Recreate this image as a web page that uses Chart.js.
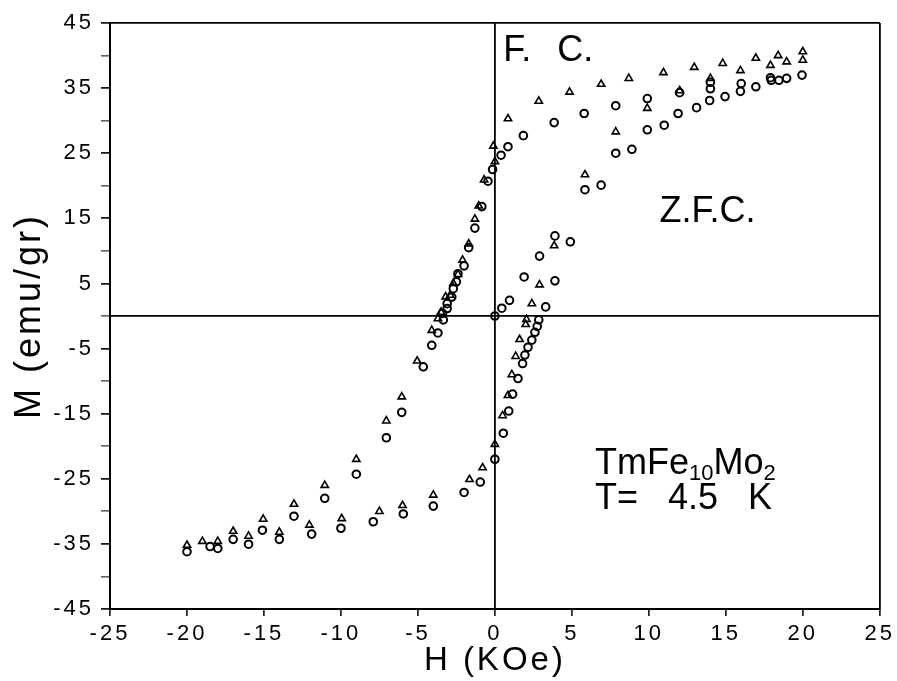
<!DOCTYPE html>
<html>
<head>
<meta charset="utf-8">
<script src="https://cdn.jsdelivr.net/npm/chart.js@4.4.0/dist/chart.umd.min.js"></script>
<style>
  html, body { margin: 0; padding: 0; background: #fff; }
</style>
</head>
<body>
<canvas id="hyst" width="897" height="681"></canvas>
<script>
// open circles, H in KOe / M in emu/gr
var circleH = [0, 0.45, 0.95, 1.9, 2.9, 3.9, 4.9, 3.3, 3.9, 5.85, 6.9, 7.85, 8.9, 9.9, 11, 11.9, 13.1, 13.95, 14.95, 15.95, 16.95, 17.95, 18.45, 18.95, 19.95,
  17.9, 16, 14, 14, 12, 9.9, 7.85, 5.8, 3.85, 1.85, 0.85, 0.4, -0.15, -0.45, -0.85, -1.3, -1.7, -2.0, -2.4, -2.5, -2.7, -2.8, -3.1, -3.1, -3.4, -3.35,
  -3.7, -4.1, -4.65, -6.05, -7.05, -9, -11.05, -13.05, -15.1, -17, -18, -18.5, -20,
  -16, -14, -11.9, -10, -7.9, -5.95, -4, -2, -0.95, 0, 0.55, 0.9, 1.15, 1.5, 1.8, 1.95, 2.15, 2.4, 2.6, 2.75, 2.85];
var circleM = [0, 1.2, 2.4, 6.0, 9.2, 12.3, 11.4, 1.4, 5.4, 19.4, 20.1, 25.0, 25.6, 28.6, 29.3, 31.1, 32.0, 33.1, 33.7, 34.5, 35.2, 36.2, 36.2, 36.5, 37.0,
  36.6, 35.7, 35.9, 34.9, 34.3, 33.4, 32.3, 31.1, 29.7, 27.7, 26.0, 24.7, 22.5, 20.7, 16.8, 13.5, 10.5, 7.7, 6.5, 5.25, 4.2, 2.9, 1.9, 1.15, 0.4, -0.6,
  -2.6, -4.5, -7.8, -14.8, -18.7, -24.3, -28.0, -30.75, -32.9, -34.3, -35.7, -35.4, -36.2,
  -35.05, -34.3, -33.5, -32.6, -31.6, -30.4, -29.2, -27.1, -25.5, -22, -18.0, -14.6, -12.0, -9.6, -7.3, -6.0, -4.8, -3.7, -2.5, -1.6, -0.6];

// open triangles
var triangleH = [20, 18.4, 16.95, 14.8, 12.95, 10.95, 8.7, 6.9, 4.85, 2.85, 0.85, -0.1, 0, -0.7, -1.05, -1.3, -1.7, -2.1, -2.4, -2.7, -2.9, -3.2, -3.5, -3.7,
  -4.1, -5.05, -6.05, -7.05, -9, -11.05, -13.05, -15.05, -17, -18, -19, -20,
  -16, -14, -12.05, -9.95, -7.5, -6, -4, -1.65, -0.8, 0, 0.5, 0.85, 1.1, 1.35, 1.6, 2.0, 2.05, 2.4, 2.9, 3.85, 5.85, 7.85, 9.9, 12, 14, 15.95, 17.9, 18.95, 20];
var triangleM = [40.6, 40.0, 39.6, 38.8, 38.2, 37.4, 36.5, 35.6, 34.4, 33.0, 30.3, 26.1, 23.7, 20.9, 16.9, 14.9, 11.1, 8.6, 6.4, 5.0, 3.2, 2.95, 0.6, -0.4,
  -2.2, -6.9, -12.4, -16.1, -22.0, -26.0, -28.9, -31.2, -33.05, -34.6, -34.6, -35.2,
  -33.8, -33.2, -32.1, -31.1, -30.0, -29.1, -27.5, -25.1, -23.3, -19.7, -15.3, -12.2, -9.0, -6.2, -3.6, -1.3, -0.5, 1.9, 4.8, 10.8, 21.7, 28.3, 31.9, 34.6, 36.5, 37.7, 38.5, 39.05, 39.3];

function toPoints(hs, ms) {
  return hs.map(function(h, i) { return {x: h, y: ms[i]}; });
}

var FONT = 'Liberation Sans';

var notesPlugin = {
  id: 'notes',
  beforeDraw: function(chart) {
    chart.ctx.letterSpacing = '3px';
  },
  afterDraw: function(chart) {
    var ctx = chart.ctx, xs = chart.scales.x, ys = chart.scales.y;
    ctx.save();
    ctx.letterSpacing = '0px';
    ctx.fillStyle = '#000';
    ctx.textAlign = 'left';
    ctx.textBaseline = 'alphabetic';
    ctx.font = '36px "' + FONT + '"';

    ctx.wordSpacing = '16px';
    ctx.fillText('F. C.', xs.getPixelForValue(0.55), ys.getPixelForValue(39.1));
    ctx.wordSpacing = '0px';
    ctx.fillText('Z.F.C.', xs.getPixelForValue(10.7), ys.getPixelForValue(14.5));

    // TmFe10Mo2 with subscripts
    var x = xs.getPixelForValue(6.5), y = ys.getPixelForValue(-24.2);
    var parts = [['TmFe', false], ['10', true], ['Mo', false], ['2', true]];
    parts.forEach(function(p) {
      ctx.font = (p[1] ? '22px "' : '36px "') + FONT + '"';
      ctx.fillText(p[0], x, p[1] ? y + 6 : y);
      x += ctx.measureText(p[0]).width;
    });

    ctx.font = '36px "' + FONT + '"';
    ctx.wordSpacing = '20px';
    ctx.fillText('T= 4.5 K', xs.getPixelForValue(6.5), ys.getPixelForValue(-29.7));
    ctx.restore();
    ctx.letterSpacing = '0px';
  }
};

function lineAt(values, on, off) {
  return function(c) {
    return c.tick && values.indexOf(c.tick.value) >= 0 ? on : off;
  };
}

new Chart(document.getElementById('hyst').getContext('2d'), {
  type: 'scatter',
  data: {
    datasets: [{
      label: 'Z.F.C.',
      data: toPoints(circleH, circleM),
      pointStyle: 'circle',
      pointRadius: 3.8,
      borderWidth: 2,
      borderColor: '#000',
      backgroundColor: 'rgba(0,0,0,0)'
    }, {
      label: 'F.C.',
      data: toPoints(triangleH, triangleM),
      pointStyle: 'triangle',
      pointRadius: 4.2,
      borderWidth: 1.6,
      borderColor: '#000',
      backgroundColor: 'rgba(0,0,0,0)'
    }]
  },
  options: {
    responsive: false,
    animation: false,
    events: [],
    layout: { padding: { top: 23, right: 14, left: 0, bottom: 0 } },
    plugins: { legend: { display: false }, tooltip: { enabled: false } },
    scales: {
      x: {
        type: 'linear', min: -25, max: 25,
        ticks: { stepSize: 5, color: '#000', font: { family: FONT, size: 22 }, padding: 5, maxRotation: 0, autoSkip: false },
        grid: {
          color: lineAt([0, 25], '#000', 'rgba(0,0,0,0)'),
          lineWidth: 1.8,
          tickColor: '#000', tickLength: 7, tickWidth: 1.5
        },
        border: { display: true, color: '#000', width: 2 },
        title: { display: true, text: 'H (KOe)', color: '#000', font: { family: FONT, size: 33 }, padding: { top: 0, bottom: 0 } },
        afterFit: function(s) { s.height = 72; }
      },
      y: {
        type: 'linear', min: -45, max: 45,
        ticks: {
          stepSize: 5, color: '#000', font: { family: FONT, size: 22 }, padding: 7, autoSkip: false,
          callback: function(v) { return Math.abs(v) % 10 === 5 ? String(v) : ''; }
        },
        grid: {
          color: lineAt([0, 45], '#000', 'rgba(0,0,0,0)'),
          lineWidth: 1.8,
          tickColor: '#000', tickLength: 9,
          tickWidth: function(c) { return c.tick && Math.abs(c.tick.value) % 10 === 5 ? 1.6 : 1; }
        },
        border: { display: true, color: '#000', width: 2 },
        title: { display: true, text: 'M (emu/gr)', color: '#000', font: { family: FONT, size: 36 }, padding: { top: 8, bottom: 0 } },
        afterFit: function(s) { s.width = 110; }
      }
    }
  },
  plugins: [notesPlugin]
});
</script>
</body>
</html>
